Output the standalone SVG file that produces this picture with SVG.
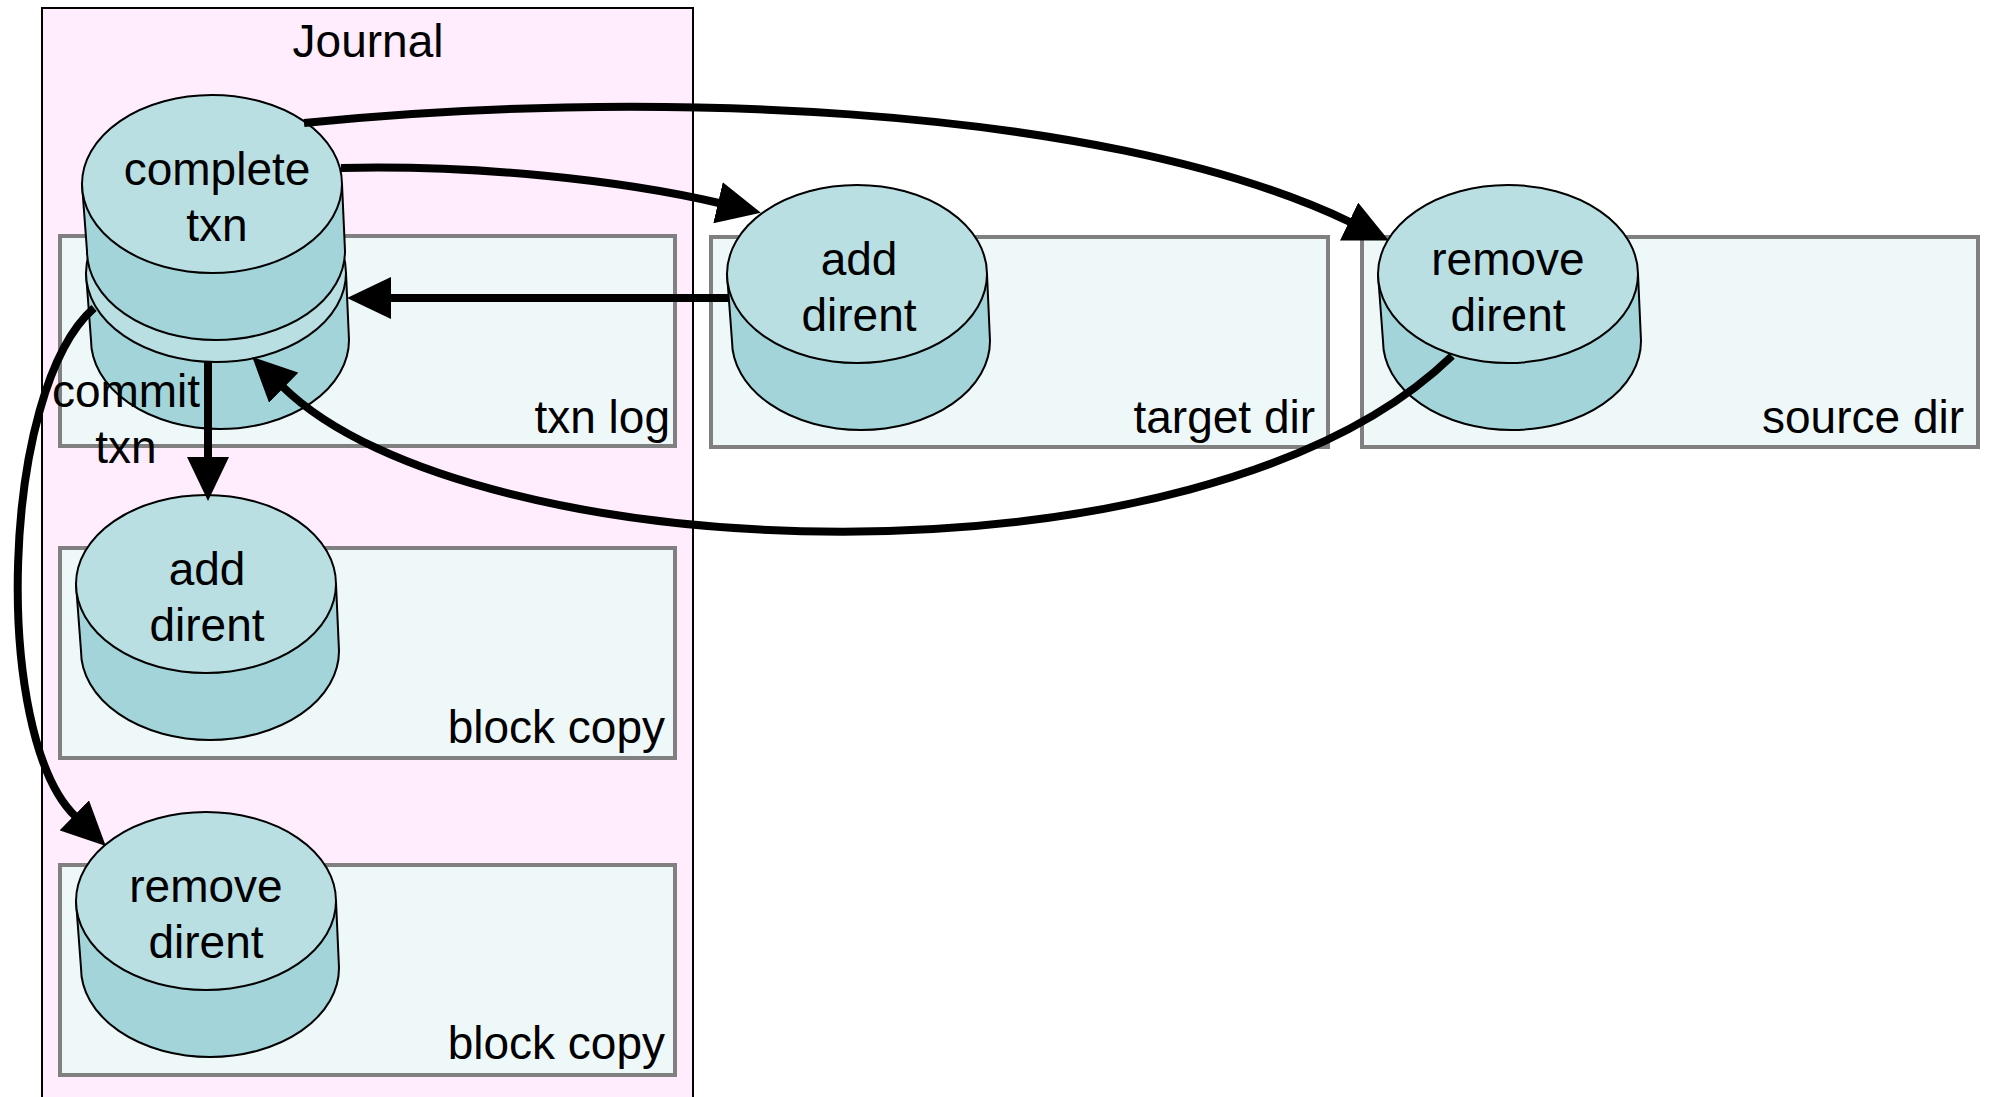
<svg xmlns="http://www.w3.org/2000/svg" width="1990" height="1097" viewBox="0 0 1990 1097">
  <defs>
    <style>
      text { font-family: "Liberation Sans", Arial, Helvetica, sans-serif; font-size: 46px; fill: #000; }
      .journal { fill: #ffedfd; stroke: #000; stroke-width: 2; }
      .lane { fill: #eff8f9; stroke: #808080; stroke-width: 4; }
      .body { fill: #a2d4d9; stroke: #000; stroke-width: 2; }
      .top { fill: #b9dfe3; stroke: #000; stroke-width: 2; }
      .mid { text-anchor: middle; }
      .end { text-anchor: end; }
      .edge { fill: none; stroke: #000; stroke-width: 8; marker-end: url(#head); }
    </style>
    <marker id="head" viewBox="0 0 44 42" markerUnits="userSpaceOnUse" markerWidth="44" markerHeight="42" refX="1" refY="21" orient="auto">
      <path d="M0,0 L44,21 L0,42 Z" fill="#000"/>
    </marker>
  </defs>

  <rect width="1990" height="1097" fill="#fff"/>

  <!-- Journal cluster -->
  <g id="journal">
    <rect class="journal" x="42" y="8" width="651" height="1110"/>
    <text class="mid" x="368" y="57">Journal</text>
  </g>

  <!-- lanes -->
  <g id="lane-txn-log">
    <rect class="lane" x="60" y="236" width="615" height="210"/>
    <text class="end" x="670" y="433">txn log</text>
  </g>
  <g id="lane-block-copy-1">
    <rect class="lane" x="60" y="548" width="615" height="210"/>
    <text class="end" x="665" y="743">block copy</text>
  </g>
  <g id="lane-block-copy-2">
    <rect class="lane" x="60" y="865" width="615" height="210"/>
    <text class="end" x="665" y="1059">block copy</text>
  </g>
  <g id="lane-target-dir">
    <rect class="lane" x="711" y="237" width="617" height="210"/>
    <text class="end" x="1315" y="433">target dir</text>
  </g>
  <g id="lane-source-dir">
    <rect class="lane" x="1362" y="237" width="616" height="210"/>
    <text class="end" x="1964" y="433">source dir</text>
  </g>

  <!-- nodes -->
  <g id="commit-txn">
    <path class="body" d="M86 273 L91 340 A129 89 0 0 0 349 340 L346 273 Z"/>
    <ellipse class="top" cx="216" cy="273" rx="130" ry="89"/>
    <text class="mid" x="126" y="407">commit</text>
    <text class="mid" x="126" y="463">txn</text>
  </g>
  <g id="complete-txn">
    <path class="body" d="M82 184 L87 251 A129 89 0 0 0 345 251 L342 184 Z"/>
    <ellipse class="top" cx="212" cy="184" rx="130" ry="89"/>
    <text class="mid" x="217" y="185">complete</text>
    <text class="mid" x="217" y="241">txn</text>
  </g>
  <g id="add-dirent-target">
    <path class="body" d="M727 274 L732 341 A129 89 0 0 0 990 341 L987 274 Z"/>
    <ellipse class="top" cx="857" cy="274" rx="130" ry="89"/>
    <text class="mid" x="859" y="275">add</text>
    <text class="mid" x="859" y="331">dirent</text>
  </g>
  <g id="remove-dirent-source">
    <path class="body" d="M1378 274 L1383 341 A129 89 0 0 0 1641 341 L1638 274 Z"/>
    <ellipse class="top" cx="1508" cy="274" rx="130" ry="89"/>
    <text class="mid" x="1508" y="275">remove</text>
    <text class="mid" x="1508" y="331">dirent</text>
  </g>
  <g id="add-dirent-block">
    <path class="body" d="M76 584 L81 651 A129 89 0 0 0 339 651 L336 584 Z"/>
    <ellipse class="top" cx="206" cy="584" rx="130" ry="89"/>
    <text class="mid" x="207" y="585">add</text>
    <text class="mid" x="207" y="641">dirent</text>
  </g>
  <g id="remove-dirent-block">
    <path class="body" d="M76 901 L81 968 A129 89 0 0 0 339 968 L336 901 Z"/>
    <ellipse class="top" cx="206" cy="901" rx="130" ry="89"/>
    <text class="mid" x="206" y="902">remove</text>
    <text class="mid" x="206" y="958">dirent</text>
  </g>

  <!-- connectors -->
  <g id="connectors">
    <path class="edge" d="M304 123 C620 90 1095 100 1350 222"/>
    <path class="edge" d="M341 168 C480 165 620 180 719 203"/>
    <path class="edge" d="M728 298 L390 298"/>
    <path class="edge" d="M208 362 L208 458"/>
    <path class="edge" d="M1452 356 C1200 600 470 570 283 387"/>
    <path class="edge" d="M94 308 C0 390 -8 735 75 816"/>
  </g>
</svg>
